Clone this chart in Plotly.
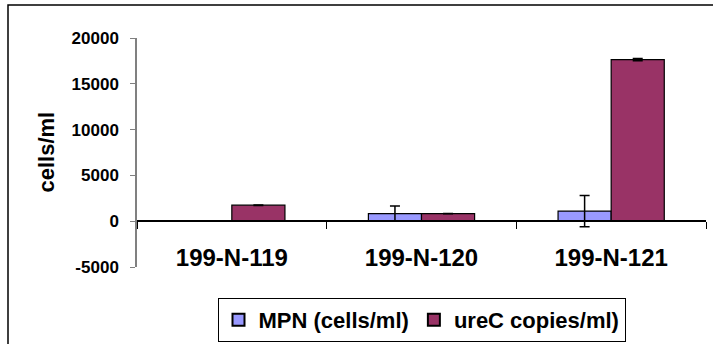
import plotly.graph_objects as go

# Samples and measured values
samples = ["199-N-119", "199-N-120", "199-N-121"]
mpn_values = [23, 830, 1100]
mpn_errors = [15, 820, 1700]
urec_values = [1750, 820, 17640]
urec_errors = [30, 20, 120]

y_ticks = [-5000, 0, 5000, 10000, 15000, 20000]
y_tick_text = ["-5000", "0", "5000", "10000", "15000", "20000"]

FONT = "Liberation Sans, Arial, sans-serif"
W, H = 713, 344
ML, MR, MT, MB = 137, 7, 38, 4
PLOT_BOTTOM_PX = 267          # pixel row of the lower end of the value axis
LEGEND_CENTER_PX = 320        # pixel row of the legend centre

paper_h = H - MT - MB
paper_w = W - ML - MR


def py(px):
    """Convert a pixel row to a paper y fraction."""
    return (H - MB - px) / paper_h


fig = go.Figure()
fig.add_trace(go.Bar(
    x=samples, y=mpn_values, name="MPN (cells/ml)",
    marker=dict(color="#9999FF", line=dict(color="#000000", width=1.2)),
    error_y=dict(type="data", array=mpn_errors, visible=True,
                 color="#000000", thickness=1.5, width=5),
))
fig.add_trace(go.Bar(
    x=samples, y=urec_values, name="ureC copies/ml)",
    marker=dict(color="#993366", line=dict(color="#000000", width=1.2)),
    error_y=dict(type="data", array=urec_errors, visible=True,
                 color="#000000", thickness=1.5, width=5),
))

y_min, y_max = y_ticks[0], y_ticks[-1]
dom0 = py(PLOT_BOTTOM_PX)
zero_pos = dom0 + (1 - dom0) * (0 - y_min) / (y_max - y_min)

fig.update_layout(
    template="none",
    width=W, height=H,
    margin=dict(l=ML, r=MR, t=MT, b=MB, autoexpand=False),
    paper_bgcolor="white", plot_bgcolor="white",
    barmode="group", bargap=0.44, bargroupgap=0,
    font=dict(family=FONT, color="#000000"),
    xaxis=dict(
        type="category", automargin=False,
        anchor="free", position=zero_pos,
        showline=True, linecolor="#000000", linewidth=1.5,
        ticks="outside", tickson="boundaries", ticklen=7,
        tickcolor="#000000", tickwidth=1,
        tickfont=dict(family=FONT, size=24, weight="bold"),
        ticklabelstandoff=15,
        showgrid=False, zeroline=False,
    ),
    yaxis=dict(
        domain=[dom0, 1], automargin=False,
        range=[y_min, y_max], tickvals=y_ticks, ticktext=y_tick_text,
        showline=True, linecolor="#808080", linewidth=1.5,
        ticks="outside", ticklen=5, tickcolor="#808080", tickwidth=1,
        tickfont=dict(family=FONT, size=17, weight="bold"),
        ticklabelstandoff=8,
        showgrid=False, zeroline=False,
    ),
    legend=dict(
        orientation="h", x=0.5, xanchor="center",
        y=py(LEGEND_CENTER_PX), yanchor="middle",
        bordercolor="#000000", borderwidth=1, bgcolor="white",
        font=dict(family=FONT, size=22, weight="bold"),
        itemsizing="constant", traceorder="normal",
    ),
    showlegend=True,
    annotations=[dict(
        text="cells/ml", textangle=-90,
        xref="paper", yref="paper", x=(46 - ML) / paper_w,
        y=(dom0 + 1) / 2,
        xanchor="center", yanchor="middle", showarrow=False,
        font=dict(family=FONT, size=22, weight="bold"),
    )],
    shapes=[dict(
        type="rect", xref="paper", yref="paper",
        x0=(8 - ML) / paper_w, x1=1.1,
        y0=-0.2, y1=py(5),
        line=dict(color="#000000", width=1.5), layer="below",
    )],
)

fig.write_html("out.html")
